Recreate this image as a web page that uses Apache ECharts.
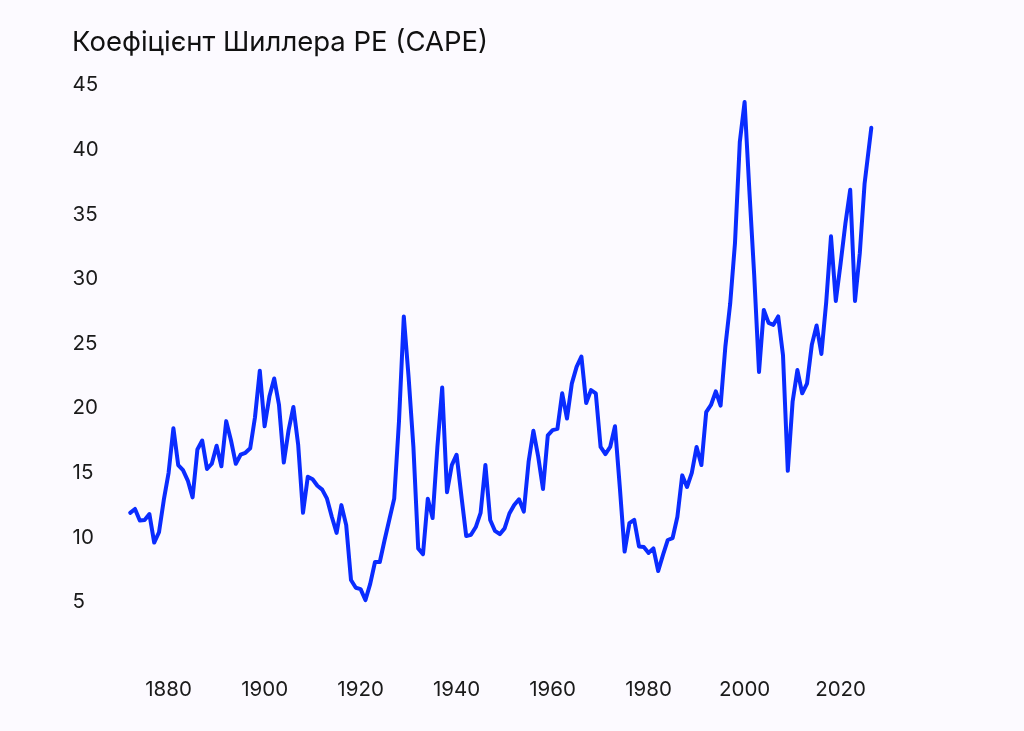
<!DOCTYPE html>
<html>
<head>
<meta charset="utf-8">
<title>CAPE</title>
<script src="https://cdn.jsdelivr.net/npm/echarts@6/dist/echarts.min.js"></script>
<style>
  html, body { margin: 0; padding: 0; background: #fcfaff; }
  #chart { width: 1024px; height: 731px; }
</style>
</head>
<body>
<div id="chart"></div>
<script>
// Shiller CAPE, January of each year
var firstYear = 1872;
var capeValues = [
  11.9, 12.2, 11.3, 11.35, 11.8, 9.6, 10.4, 12.9,                      // 1872-1879
  15.0, 18.45, 15.6, 15.2, 14.4, 13.1, 16.8, 17.5, 15.3, 15.7,         // 1880s
  17.1, 15.5, 19.0, 17.5, 15.7, 16.4, 16.55, 16.9, 19.3, 22.9,         // 1890s
  18.6, 20.9, 22.3, 20.25, 15.8, 18.3, 20.1, 17.15, 11.9, 14.7,        // 1900s
  14.5, 14.0, 13.7, 13.0, 11.6, 10.35, 12.5, 10.95, 6.7, 6.1,          // 1910s
  6.0, 5.15, 6.4, 8.1, 8.1, 9.8, 11.4, 13.0, 19.0, 27.1,               // 1920s
  22.4, 17.0, 9.15, 8.7, 13.0, 11.5, 17.0, 21.6, 13.5, 15.6,           // 1930s
  16.4, 13.2, 10.1, 10.2, 10.8, 11.9, 15.6, 11.35, 10.5, 10.25,        // 1940s
  10.7, 11.85, 12.5, 12.95, 12.0, 15.85, 18.25, 16.25, 13.75, 17.9,    // 1950s
  18.3, 18.4, 21.15, 19.2, 21.9, 23.2, 24.0, 20.4, 21.4, 21.15,        // 1960s
  17.0, 16.45, 17.0, 18.6, 13.9, 8.9, 11.1, 11.35, 9.3, 9.25,          // 1970s
  8.8, 9.15, 7.4, 8.65, 9.8, 9.95, 11.6, 14.8, 13.9, 15.0,             // 1980s
  17.0, 15.6, 19.7, 20.25, 21.3, 20.2, 24.8, 28.1, 32.8, 40.6,         // 1990s
  43.7, 36.8, 30.3, 22.8, 27.6, 26.6, 26.45, 27.1, 24.1, 15.15,        // 2000s
  20.5, 22.95, 21.15, 21.9, 24.9, 26.4, 24.2, 28.2, 33.3, 28.3,        // 2010s
  31.2, 34.3, 36.9, 28.3, 32.0, 37.4                                   // 2020-2025
];
// latest reading (part way into 2026)
var latestYear = 2026.4;
var latestValue = 41.7;

var xTicks = [1880, 1900, 1920, 1940, 1960, 1980, 2000, 2020];
var yTicks = [5, 10, 15, 20, 25, 30, 35, 40, 45];

var seriesData = [];
for (var i = 0; i < capeValues.length; i++) {
  seriesData.push([firstYear + i, capeValues[i]]);
}
seriesData.push([latestYear, latestValue]);

var FONT = 'Inter, "Noto Sans", sans-serif';

var myChart = echarts.init(document.getElementById('chart'), null, { renderer: 'canvas' });
myChart.setOption({
  backgroundColor: '#fcfaff',
  animation: false,
  title: {
    text: 'Коефіцієнт Шиллера PE (CAPE)',
    left: 72,
    top: 29,
    padding: 0,
    textStyle: {
      fontFamily: FONT,
      fontSize: 27.5,
      fontWeight: 400,
      color: '#111111'
    }
  },
  grid: {
    left: 72.6,
    right: 87.4,
    top: 85.2,
    bottom: 64.4,
    containLabel: false
  },
  xAxis: {
    type: 'value',
    min: 1860,
    max: 2040,
    interval: 20,
    axisLine: { show: false },
    axisTick: { show: false },
    splitLine: { show: false },
    axisLabel: {
      margin: 13,
      fontFamily: FONT,
      fontSize: 20.5,
      color: '#1a1a1a',
      formatter: function (v) {
        return xTicks.indexOf(v) >= 0 ? String(v) : '';
      }
    }
  },
  yAxis: {
    type: 'value',
    min: 0,
    max: 45,
    interval: 5,
    axisLine: { show: false },
    axisTick: { show: false },
    splitLine: { show: false },
    axisLabel: {
      margin: 0,
      align: 'left',
      fontFamily: FONT,
      fontSize: 20.5,
      color: '#1a1a1a',
      formatter: function (v) {
        return yTicks.indexOf(v) >= 0 ? String(v) : '';
      }
    }
  },
  series: [{
    type: 'line',
    data: seriesData,
    symbol: 'none',
    lineStyle: {
      color: '#0a2cff',
      width: 4,
      cap: 'round',
      join: 'round'
    }
  }]
});
</script>
</body>
</html>
